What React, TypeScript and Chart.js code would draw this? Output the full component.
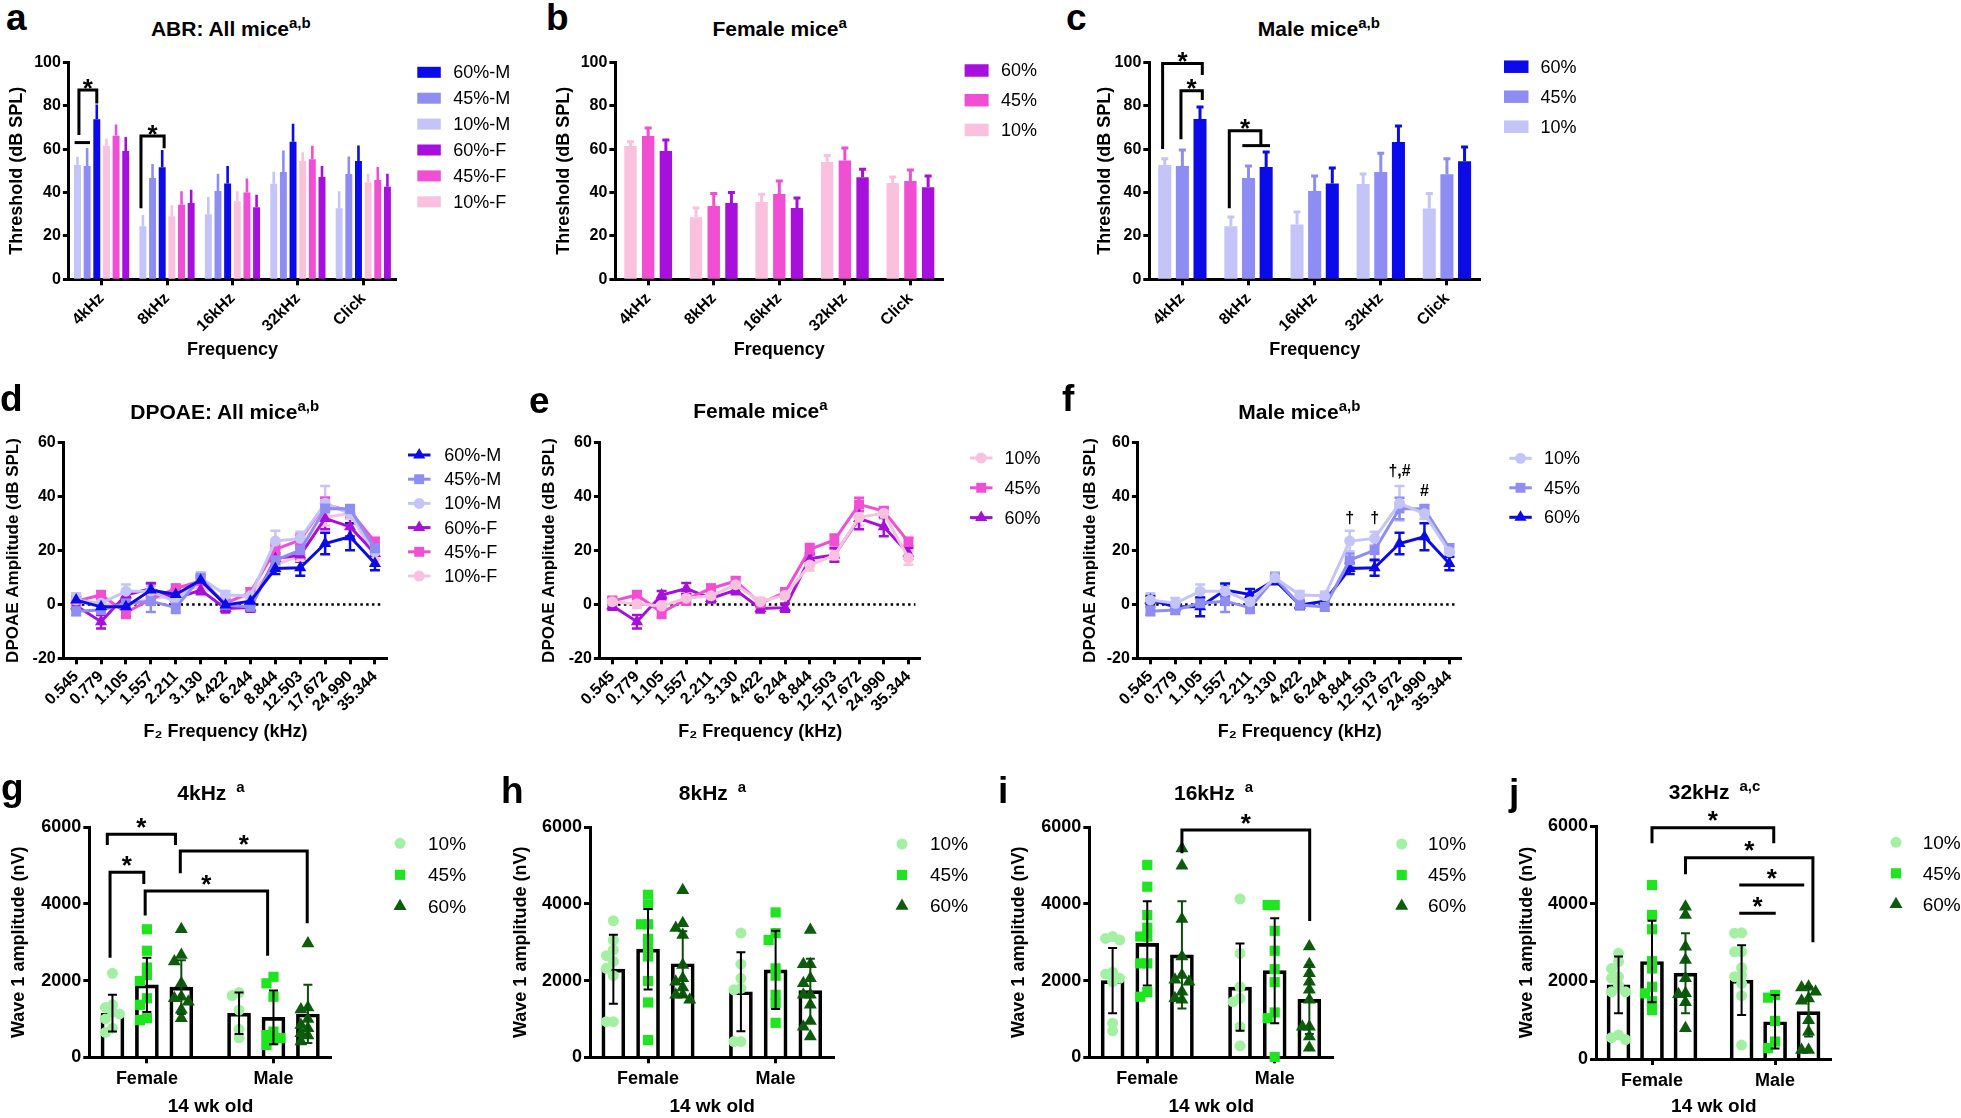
import React, { useEffect, useRef } from "react";
import { Chart, registerables } from "chart.js";

Chart.register(...registerables);

const FONT = "'Liberation Sans', Arial, Helvetica, sans-serif";

/* ======================= DATA ======================= */
// ---- ABR thresholds (dB SPL), panels a–c ----
const abrLabels = ["4kHz", "8kHz", "16kHz", "32kHz", "Click"];
// panel a – all mice
const allM10 = [52.7, 24.4, 30.0, 44.0, 32.7];
const allM10Sem = [3.2, 4.6, 7.3, 5.0, 7.3];
const allM45 = [52.2, 46.7, 40.7, 49.5, 48.5];
const allM45Sem = [7.7, 5.8, 7.3, 9.2, 7.5];
const allM60 = [73.7, 51.6, 44.2, 63.4, 54.5];
const allM60Sem = [6.2, 7.4, 7.4, 7.7, 6.6];
const allF10 = [61.6, 29.0, 36.0, 54.5, 44.7];
const allF10Sem = [2.6, 4.5, 4.0, 3.5, 3.3];
const allF45 = [66.2, 34.3, 40.0, 55.3, 45.8];
const allF45Sem = [4.5, 5.7, 5.8, 5.7, 5.4];
const allF60 = [59.1, 35.2, 33.2, 47.2, 42.7];
const allF60Sem = [5.9, 5.5, 5.2, 4.4, 5.3];
// panel b – female mice
const femThr10 = [61.4, 28.6, 35.6, 54.1, 44.4];
const femThr10Sem = [2.0, 4.3, 3.6, 3.0, 2.8];
const femThr45 = [66.0, 33.8, 39.3, 54.8, 45.3];
const femThr45Sem = [3.7, 5.7, 6.0, 5.7, 5.1];
const femThr60 = [59.1, 35.2, 32.9, 47.0, 42.4];
const femThr60Sem = [5.1, 4.8, 4.6, 3.7, 5.2];
// panel c – male mice
const maleThr10 = [52.7, 24.4, 25.3, 43.9, 32.6];
const maleThr10Sem = [2.8, 4.3, 5.7, 4.6, 6.9];
const maleThr45 = [52.2, 46.7, 40.7, 49.5, 48.4];
const maleThr45Sem = [7.4, 5.5, 6.9, 8.6, 7.1];
const maleThr60 = [73.9, 51.8, 44.2, 63.3, 54.4];
const maleThr60Sem = [5.5, 6.9, 7.1, 7.4, 6.6];

// ---- DPOAE amplitude (dB SPL), panels d–f ----
const f2Labels = ["0.545", "0.779", "1.105", "1.557", "2.211", "3.130", "4.422", "6.244", "8.844", "12.503", "17.672", "24.990", "35.344"];
const dpF10 = [1.0, 0.2, -0.6, 2.3, 3.2, 7.3, 1.0, 3.4, 14.6, 18.2, 32.3, 33.8, 17.2];
const dpF10Sem = [2, 1.5, 2, 2, 2, 1.5, 1.5, 1.5, 2, 2, 3, 2, 2.5];
const dpF45 = [1.2, 3.5, -3.0, 1.9, 5.9, 8.7, 0.4, 4.5, 20.4, 23.9, 37.1, 34.6, 23.2];
const dpF45Sem = [1.5, 1.5, 2, 2, 1.5, 1.5, 1.5, 1.5, 2, 2, 2.5, 1.5, 1.5];
const dpF60 = [-0.5, -6.4, 3.5, 5.9, 2.2, 5.3, -1.5, -1.2, 17.0, 18.3, 31.9, 28.8, 18.9];
const dpF60Sem = [1.5, 2.5, 1.5, 2, 1.5, 1.5, 1.5, 1.5, 2, 2.5, 4, 3.5, 2];
const dpM10 = [1.6, 0.4, 4.9, 4.9, 1.0, 9.9, 3.5, 3.2, 23.5, 24.5, 37.5, 33.7, 19.5];
const dpM10Sem = [2.5, 2, 2.5, 2, 2, 2, 1.5, 1.5, 3.8, 2.5, 6.4, 2, 2];
const dpM45 = [-2.5, -2.1, 0.4, 1.2, -1.2, 9.9, -0.2, -0.9, 16.4, 20.1, 35.6, 35.4, 20.8];
const dpM45Sem = [1.5, 1.5, 2, 4, 2, 1.5, 1.5, 1.5, 2.5, 4, 4, 1.5, 1.5];
const dpM60 = [1.6, -0.9, -0.9, 5.3, 3.7, 9.0, -0.2, 1.2, 13.3, 13.6, 22.6, 25.1, 15.2];
const dpM60Sem = [1.5, 1.5, 3.5, 2.5, 2, 1.5, 1.5, 1.5, 2, 3, 4, 5, 2.5];

// ---- Wave 1 amplitude (nV), panels g–j ----
const wave1Groups = ["Female", "Male"];
// g – 4 kHz
const w4F10 = [2190, 1370, 1300, 1180, 1130, 1000, 760, 650];
const w4F45 = [3340, 2780, 2340, 2150, 1990, 1540, 1370, 1020, 970];
const w4F60 = [3340, 2670, 2500, 1930, 1580, 1540, 1450, 1240, 1020];
const w4M10 = [1690, 1610, 1230, 730, 510];
const w4M45 = [2100, 1930, 1580, 670, 580, 500, 450, 320];
const w4M60 = [2970, 1300, 1250, 1000, 840, 760, 630, 570, 410];
const w4Mean10 = [1150, 1150];
const w4Mean45 = [1890, 1040];
const w4Mean60 = [1830, 1130];
const w4Sd10 = [480, 540];
const w4Sd45 = [710, 700];
const w4Sd60 = [700, 760];
// h – 8 kHz
const w8F10 = [3560, 3060, 2800, 2650, 2500, 2320, 2130, 930, 930];
const w8F45 = [4240, 3970, 3470, 3470, 3090, 2840, 2630, 1990, 1430, 450];
const w8F60 = [4360, 3500, 3370, 3190, 2410, 2060, 1970, 1820, 1630, 1630, 1500];
const w8M10 = [3240, 2430, 2060, 1800, 1760, 410, 410];
const w8M45 = [3780, 3240, 3060, 2320, 2130, 1630, 1410, 900];
const w8M60 = [3320, 2430, 2430, 2060, 1930, 1630, 1630, 1370, 950, 800, 540];
const w8Mean10 = [2300, 1710];
const w8Mean45 = [2820, 2280];
const w8Mean60 = [2440, 1740];
const w8Sd10 = [900, 1030];
const w8Sd45 = [1050, 1020];
const w8Sd60 = [850, 830];
// i – 16 kHz
const w16F10 = [3150, 3100, 3060, 2220, 2170, 2060, 1970, 890, 690];
const w16F45 = [5020, 4450, 3710, 3380, 3150, 3150, 2450, 2450, 1700, 1580];
const w16F60 = [5450, 5000, 3610, 2630, 2150, 2020, 1970, 1710, 1540, 1500];
const w16M10 = [4130, 2710, 1840, 1540, 1450, 800, 300];
const w16M45 = [3970, 3970, 3300, 2780, 2300, 1960, 1170, 1020, 10];
const w16M60 = [2890, 2430, 2190, 1970, 1760, 1500, 800, 800, 540, 250];
const w16Mean10 = [2000, 1830];
const w16Mean45 = [2970, 2260];
const w16Mean60 = [2670, 1510];
const w16Sd10 = [850, 1140];
const w16Sd45 = [1100, 1370];
const w16Sd60 = [1400, 900];
// j – 32 kHz
const w32F10 = [2720, 2510, 2330, 2120, 2080, 1900, 1730, 1730, 620, 550, 500];
const w32F45 = [4480, 3710, 3340, 2520, 2330, 1860, 1690, 1490, 1260];
const w32F60 = [3920, 3710, 2890, 2550, 2080, 1690, 1670, 1460, 790];
const w32M10 = [3250, 3240, 2760, 2760, 2350, 2160, 2120, 1950, 1630, 360];
const w32M45 = [1650, 1580, 980, 450, 280];
const w32M60 = [1860, 1840, 1730, 1560, 1500, 1000, 700, 230, 230];
const w32Mean10 = [1910, 2030];
const w32Mean45 = [2510, 960];
const w32Mean60 = [2210, 1220];
const w32Sd10 = [730, 900];
const w32Sd45 = [1050, 690];
const w32Sd60 = [1030, 640];

/* ======================= STYLE ======================= */
const M60 = "#0b0bea";
const M45 = "#8d8df4";
const M10 = "#c4c4f8";
const F60 = "#a70fdd";
const F45 = "#f14fd3";
const F10 = "#f9c1de";
const G10 = "#a3f0a3";
const G45 = "#1ee61e";
const G60 = "#0c5c0c";

type Frame = { cx: number; cy: number; cw: number; ch: number; l: number; t: number; r: number; b: number; yTitleX: number; xTitleY: number };

const frames: Record<string, Frame> = {
  a: { cx: 0, cy: 40, cw: 530, ch: 330, l: 68.9, t: 62.3, r: 396, b: 279.3, yTitleX: 17.2, xTitleY: 350 },
  b: { cx: 530, cy: 40, cw: 530, ch: 330, l: 615.4, t: 62.3, r: 943.2, b: 279.3, yTitleX: 564.4, xTitleY: 350 },
  c: { cx: 1060, cy: 40, cw: 560, ch: 330, l: 1149.3, t: 62.3, r: 1480, b: 279.3, yTitleX: 1105.4, xTitleY: 350 },
  d: { cx: 0, cy: 380, cw: 530, ch: 370, l: 63.7, t: 442.7, r: 387.4, b: 658.3, yTitleX: 13.8, xTitleY: 731.7 },
  e: { cx: 530, cy: 380, cw: 530, ch: 370, l: 599.9, t: 442.7, r: 920.8, b: 658.3, yTitleX: 548.9, xTitleY: 731.7 },
  f: { cx: 1060, cy: 380, cw: 560, ch: 370, l: 1137.9, t: 442.7, r: 1461.8, b: 658.3, yTitleX: 1090.4, xTitleY: 731.7 },
  g: { cx: 0, cy: 770, cw: 500, ch: 348, l: 89.3, t: 827.3, r: 331.7, b: 1057.3, yTitleX: 19, xTitleY: 1106.7 },
  h: { cx: 500, cy: 770, cw: 490, ch: 348, l: 590, t: 827.3, r: 834.3, b: 1057.3, yTitleX: 520.8, xTitleY: 1106.7 },
  i: { cx: 990, cy: 770, cw: 500, ch: 348, l: 1089.3, t: 827.3, r: 1333.3, b: 1057.3, yTitleX: 1019, xTitleY: 1106.7 },
  j: { cx: 1490, cy: 770, cw: 471, ch: 348, l: 1596, t: 826, r: 1831.7, b: 1059, yTitleX: 1527.5, xTitleY: 1108.3 },
};

const BAR_STEP = 0.272; // spacing of the three diet bars inside a sex group (x units)
const WX_MIN = -0.455;
const WX_MAX = 1.46;

/* ======================= HELPERS ======================= */
function drawMarker(ctx: CanvasRenderingContext2D, shape: string, x: number, y: number, r: number, color: string) {
  ctx.fillStyle = color;
  ctx.beginPath();
  if (shape === "circle") ctx.arc(x, y, r, 0, Math.PI * 2);
  else if (shape === "rect") {
    const s = r * Math.SQRT1_2;
    ctx.rect(x - s, y - s, 2 * s, 2 * s);
  } else {
    ctx.moveTo(x, y - r);
    ctx.lineTo(x + r * 0.866, y + r * 0.5);
    ctx.lineTo(x - r * 0.866, y + r * 0.5);
    ctx.closePath();
  }
  ctx.fill();
}

function yAxis(f: Frame, min: number, max: number, step: number, title: string, tickSize: number, titleSize: number) {
  const lh = titleSize * 1.2;
  return {
    type: "linear",
    min,
    max,
    ticks: {
      stepSize: step,
      color: "#000",
      padding: 2,
      font: { family: FONT, size: tickSize, weight: "bold" },
      callback: (v: any) => String(v),
    },
    border: { display: true, color: "#000", width: 3 },
    grid: { display: true, drawOnChartArea: false, drawTicks: true, tickLength: 6, tickWidth: 3, tickColor: "#000" },
    title: {
      display: true,
      text: title,
      color: "#000",
      font: { family: FONT, size: titleSize, weight: "bold", lineHeight: 1.2 },
      padding: { top: Math.max(0, f.yTitleX - f.cx - lh / 2), bottom: 0 },
    },
    afterFit: (s: any) => {
      s.width = f.l - f.cx;
    },
  };
}

function xCommon(f: Frame, title: string, tickSize: number, titleSize: number, rotation: number, pad: number) {
  const lh = titleSize * 1.2;
  return {
    ticks: {
      color: "#000",
      autoSkip: false,
      maxRotation: rotation,
      minRotation: rotation,
      padding: pad,
      font: { family: FONT, size: tickSize, weight: "bold" },
    },
    border: { display: true, color: "#000", width: 3 },
    grid: { display: true, drawOnChartArea: false, drawTicks: true, tickLength: 6, tickWidth: 3, tickColor: "#000", offset: false },
    title: {
      display: true,
      text: title,
      color: "#000",
      font: { family: FONT, size: titleSize, weight: "bold", lineHeight: 1.2 },
      padding: { top: 0, bottom: Math.max(0, f.cy + f.ch - f.xTitleY - lh / 2) },
    },
    afterFit: (s: any) => {
      s.height = f.cy + f.ch - f.b;
    },
  };
}

function baseOptions(f: Frame, scales: any) {
  return {
    responsive: false,
    animation: false,
    events: [],
    layout: { padding: { left: 0, top: f.t - f.cy, right: f.cx + f.cw - f.r, bottom: 0 } },
    plugins: { legend: { display: false }, tooltip: { enabled: false }, title: { display: false } },
    scales,
  };
}

function drawErrors(chart: any, under: boolean) {
  const ctx = chart.ctx;
  chart.data.datasets.forEach((ds: any, i: number) => {
    if (!ds.errors || !!ds.errUnder !== under) return;
    const meta = chart.getDatasetMeta(i);
    const ys = chart.scales[meta.yAxisID];
    meta.data.forEach((el: any, j: number) => {
      const raw = ds.data[j];
      const v = typeof raw === "number" ? raw : raw.y;
      const e = ds.errors[j];
      const x = el.x;
      const pTop = ys.getPixelForValue(v + e);
      const pBot = ds.errBoth ? ys.getPixelForValue(v - e) : ys.getPixelForValue(v);
      ctx.save();
      ctx.strokeStyle = ds.errColor;
      ctx.lineWidth = ds.errWidth;
      ctx.beginPath();
      ctx.moveTo(x, pBot);
      ctx.lineTo(x, pTop);
      ctx.moveTo(x - ds.errCap, pTop);
      ctx.lineTo(x + ds.errCap, pTop);
      if (ds.errBoth) {
        ctx.moveTo(x - ds.errCap, pBot);
        ctx.lineTo(x + ds.errCap, pBot);
      }
      ctx.stroke();
      ctx.restore();
    });
  });
}

const errorBarPlugin = {
  id: "errorBars",
  beforeDatasetsDraw(chart: any) {
    drawErrors(chart, true);
  },
  afterDatasetsDraw(chart: any) {
    drawErrors(chart, false);
  },
};

type Bracket = { g1: number; k1: number; g2: number; k2: number; top: number; e1: number; e2: number; star: boolean };

function bracketPlugin(list: Bracket[], starGap: number) {
  return {
    id: "brackets",
    afterDatasetsDraw(chart: any) {
      const ctx = chart.ctx;
      const y = chart.scales.y;
      const xAt = (g: number, k: number) => {
        const x0 = chart.getDatasetMeta(0).data[g].x;
        const x1 = chart.getDatasetMeta(1).data[g].x;
        return x0 + (x1 - x0) * k;
      };
      ctx.save();
      ctx.strokeStyle = "#000";
      ctx.lineWidth = 3;
      ctx.lineJoin = "miter";
      for (const b of list) {
        const xa = xAt(b.g1, b.k1);
        const xb = xAt(b.g2, b.k2);
        const yt = y.getPixelForValue(b.top);
        ctx.beginPath();
        ctx.moveTo(xa, y.getPixelForValue(b.e1));
        ctx.lineTo(xa, yt);
        ctx.lineTo(xb, yt);
        ctx.lineTo(xb, y.getPixelForValue(b.e2));
        ctx.stroke();
        if (b.star) {
          ctx.fillStyle = "#000";
          ctx.font = `bold 26px ${FONT}`;
          ctx.textAlign = "center";
          ctx.textBaseline = "alphabetic";
          ctx.fillText("*", (xa + xb) / 2, yt - starGap + 0.56 * 26);
        }
      }
      ctx.restore();
    },
  };
}

type LegendItem = { label: string; color: string; shape?: string };
type LegendSpec = { kind: "box" | "line" | "point"; x: number; textX: number; y0: number; dy: number; font: number; boxW?: number; boxH?: number; items: LegendItem[] };

function legendPlugin(f: Frame, spec: LegendSpec) {
  return {
    id: "customLegend",
    afterDraw(chart: any) {
      const ctx = chart.ctx;
      ctx.save();
      spec.items.forEach((it, i) => {
        const y = spec.y0 + i * spec.dy - f.cy;
        const x = spec.x - f.cx;
        if (spec.kind === "box") {
          ctx.fillStyle = it.color;
          ctx.fillRect(x, y - (spec.boxH || 12) / 2, spec.boxW || 23, spec.boxH || 12);
        } else if (spec.kind === "line") {
          ctx.strokeStyle = it.color;
          ctx.lineWidth = 3;
          ctx.beginPath();
          ctx.moveTo(x, y);
          ctx.lineTo(x + 22.5, y);
          ctx.stroke();
          drawMarker(ctx, it.shape || "circle", x + 11.2, y, it.shape === "circle" ? 5.5 : 7, it.color);
        } else {
          drawMarker(ctx, it.shape || "circle", x, y, it.shape === "circle" ? 5.5 : it.shape === "rect" ? 7.2 : 7.5, it.color);
        }
        ctx.fillStyle = "#000";
        ctx.font = `${spec.font}px ${FONT}`;
        ctx.textAlign = "left";
        ctx.textBaseline = "middle";
        ctx.fillText(it.label, spec.textX - f.cx, y + 1);
      });
      ctx.restore();
    },
  };
}

/* ======================= PANELS a–c ======================= */
type BarSeries = { label: string; data: number[]; err: number[]; color: string };

function abrConfig(f: Frame, series: BarSeries[], catPct: number, barPct: number, errW: number, errCap: number, legend: LegendSpec, brackets: Bracket[]) {
  return {
    type: "bar",
    data: {
      labels: abrLabels,
      datasets: series.map((s) => ({
        label: s.label,
        data: s.data,
        errors: s.err,
        errColor: s.color,
        errWidth: errW,
        errCap,
        backgroundColor: s.color,
        borderWidth: 0,
        categoryPercentage: catPct,
        barPercentage: barPct,
      })),
    },
    options: baseOptions(f, {
      x: { type: "category", offset: true, ...xCommon(f, "Frequency", 16, 18, 45, 4) },
      y: yAxis(f, 0, 100, 20, "Threshold (dB SPL)", 16, 18),
    }),
    plugins: [errorBarPlugin, bracketPlugin(brackets, 8), legendPlugin(f, legend)],
  };
}

const makeA = () =>
  abrConfig(
    frames.a,
    [
      { label: "10%-M", data: allM10, err: allM10Sem, color: M10 },
      { label: "45%-M", data: allM45, err: allM45Sem, color: M45 },
      { label: "60%-M", data: allM60, err: allM60Sem, color: M60 },
      { label: "10%-F", data: allF10, err: allF10Sem, color: F10 },
      { label: "45%-F", data: allF45, err: allF45Sem, color: F45 },
      { label: "60%-F", data: allF60, err: allF60Sem, color: F60 },
    ],
    0.885,
    0.72,
    2.6,
    1.3,
    {
      kind: "box", x: 417.3, textX: 453.3, y0: 72.3, dy: 25.9, font: 18, boxW: 23.5, boxH: 11,
      items: [
        { label: "60%-M", color: M60 },
        { label: "45%-M", color: M45 },
        { label: "10%-M", color: M10 },
        { label: "60%-F", color: F60 },
        { label: "45%-F", color: F45 },
        { label: "10%-F", color: F10 },
      ],
    },
    [
      { g1: 0, k1: 0.15, g2: 0, k2: 2, top: 87.2, e1: 66.5, e2: 81, star: true },
      { g1: 0, k1: -0.3, g2: 0, k2: 1.3, top: 63, e1: 63, e2: 63, star: false },
      { g1: 1, k1: -0.2, g2: 1, k2: 2.2, top: 66, e1: 32.7, e2: 60.4, star: true },
    ]
  );

const makeB = () =>
  abrConfig(
    frames.b,
    [
      { label: "10%", data: femThr10, err: femThr10Sem, color: F10 },
      { label: "45%", data: femThr45, err: femThr45Sem, color: F45 },
      { label: "60%", data: femThr60, err: femThr60Sem, color: F60 },
    ],
    0.81,
    0.7,
    3,
    3.5,
    {
      kind: "box", x: 964.6, textX: 1001, y0: 70.5, dy: 29.7, font: 18, boxW: 24, boxH: 12.5,
      items: [
        { label: "60%", color: F60 },
        { label: "45%", color: F45 },
        { label: "10%", color: F10 },
      ],
    },
    []
  );

const makeC = () =>
  abrConfig(
    frames.c,
    [
      { label: "10%", data: maleThr10, err: maleThr10Sem, color: M10 },
      { label: "45%", data: maleThr45, err: maleThr45Sem, color: M45 },
      { label: "60%", data: maleThr60, err: maleThr60Sem, color: M60 },
    ],
    0.8,
    0.74,
    3,
    3.5,
    {
      kind: "box", x: 1504, textX: 1540.4, y0: 66.7, dy: 30, font: 18, boxW: 24.5, boxH: 12.5,
      items: [
        { label: "60%", color: M60 },
        { label: "45%", color: M45 },
        { label: "10%", color: M10 },
      ],
    },
    [
      { g1: 0, k1: -0.12, g2: 0, k2: 2.13, top: 99.5, e1: 60, e2: 94.2, star: true },
      { g1: 0, k1: 0.92, g2: 0, k2: 2.13, top: 86.9, e1: 64.5, e2: 82.6, star: true },
      { g1: 1, k1: -0.09, g2: 1, k2: 1.7, top: 68.4, e1: 32.7, e2: 62, star: true },
      { g1: 1, k1: 0.65, g2: 1, k2: 2.22, top: 61.6, e1: 61.6, e2: 61.6, star: false },
    ]
  );

/* ======================= PANELS d–f ======================= */
type LineSeries = { label: string; data: number[]; err: number[]; color: string; shape: string };
type Mark = { cat: number; value: number; text: string };

function dpConfig(f: Frame, series: LineSeries[], legend: LegendSpec, marks: Mark[]) {
  const zeroLine = {
    id: "zeroLine",
    beforeDatasetsDraw(chart: any) {
      const ctx = chart.ctx;
      const x = chart.scales.x;
      const y = chart.scales.y;
      const py = y.getPixelForValue(0);
      ctx.save();
      ctx.strokeStyle = "#000";
      ctx.lineWidth = 2.5;
      ctx.setLineDash([2.5, 3.3]);
      ctx.beginPath();
      ctx.moveTo(x.getPixelForValue(0), py);
      ctx.lineTo(x.getPixelForValue(f2Labels.length - 1) + 7, py);
      ctx.stroke();
      ctx.restore();
    },
  };
  const markPlugin = {
    id: "marks",
    afterDatasetsDraw(chart: any) {
      const ctx = chart.ctx;
      ctx.save();
      ctx.fillStyle = "#000";
      ctx.font = `bold 16px ${FONT}`;
      ctx.textAlign = "center";
      ctx.textBaseline = "middle";
      for (const m of marks) ctx.fillText(m.text, chart.scales.x.getPixelForValue(m.cat), chart.scales.y.getPixelForValue(m.value));
      ctx.restore();
    },
  };
  return {
    type: "line",
    data: {
      labels: f2Labels,
      datasets: series.map((s) => ({
        label: s.label,
        data: s.data,
        errors: s.err,
        errBoth: true,
        errUnder: true,
        errColor: s.color,
        errWidth: 2.5,
        errCap: 5,
        borderColor: s.color,
        backgroundColor: s.color,
        borderWidth: 3,
        pointStyle: s.shape,
        pointRadius: s.shape === "circle" ? 5.5 : 7,
        pointBackgroundColor: s.color,
        pointBorderColor: s.color,
        pointBorderWidth: 0,
        tension: 0,
        clip: false,
      })),
    },
    options: baseOptions(f, {
      x: { type: "category", offset: true, ...xCommon(f, "F\u2082 Frequency (kHz)", 16, 18, 45, 3) },
      y: yAxis(f, -20, 60, 20, "DPOAE Amplitude (dB SPL)", 16, 17),
    }),
    plugins: [zeroLine, errorBarPlugin, markPlugin, legendPlugin(f, legend)],
  };
}

const makeD = () =>
  dpConfig(
    frames.d,
    [
      { label: "60%-M", data: dpM60, err: dpM60Sem, color: M60, shape: "triangle" },
      { label: "45%-M", data: dpM45, err: dpM45Sem, color: M45, shape: "rect" },
      { label: "10%-M", data: dpM10, err: dpM10Sem, color: M10, shape: "circle" },
      { label: "60%-F", data: dpF60, err: dpF60Sem, color: F60, shape: "triangle" },
      { label: "45%-F", data: dpF45, err: dpF45Sem, color: F45, shape: "rect" },
      { label: "10%-F", data: dpF10, err: dpF10Sem, color: F10, shape: "circle" },
    ],
    {
      kind: "line", x: 408, textX: 444.2, y0: 455, dy: 24.2, font: 18,
      items: [
        { label: "60%-M", color: M60, shape: "triangle" },
        { label: "45%-M", color: M45, shape: "rect" },
        { label: "10%-M", color: M10, shape: "circle" },
        { label: "60%-F", color: F60, shape: "triangle" },
        { label: "45%-F", color: F45, shape: "rect" },
        { label: "10%-F", color: F10, shape: "circle" },
      ],
    },
    []
  );

const makeE = () =>
  dpConfig(
    frames.e,
    [
      { label: "10%", data: dpF10, err: dpF10Sem, color: F10, shape: "circle" },
      { label: "45%", data: dpF45, err: dpF45Sem, color: F45, shape: "rect" },
      { label: "60%", data: dpF60, err: dpF60Sem, color: F60, shape: "triangle" },
    ],
    {
      kind: "line", x: 970, textX: 1004.5, y0: 458, dy: 29.8, font: 18,
      items: [
        { label: "10%", color: F10, shape: "circle" },
        { label: "45%", color: F45, shape: "rect" },
        { label: "60%", color: F60, shape: "triangle" },
      ],
    },
    []
  );

const makeF = () =>
  dpConfig(
    frames.f,
    [
      { label: "10%", data: dpM10, err: dpM10Sem, color: M10, shape: "circle" },
      { label: "45%", data: dpM45, err: dpM45Sem, color: M45, shape: "rect" },
      { label: "60%", data: dpM60, err: dpM60Sem, color: M60, shape: "triangle" },
    ],
    {
      kind: "line", x: 1509.3, textX: 1544, y0: 458.3, dy: 29.5, font: 18,
      items: [
        { label: "10%", color: M10, shape: "circle" },
        { label: "45%", color: M45, shape: "rect" },
        { label: "60%", color: M60, shape: "triangle" },
      ],
    },
    [
      { cat: 8, value: 31.9, text: "\u2020" },
      { cat: 9, value: 31.9, text: "\u2020" },
      { cat: 10, value: 49.4, text: "\u2020,#" },
      { cat: 11, value: 41.8, text: "#" },
    ]
  );

/* ======================= PANELS g–j ======================= */
function swarm(values: number[], center: number, unitsPerPx: number, pxPerVal: number, step: number, minDist: number) {
  const idx = values.map((_, i) => i).sort((a, b) => values[b] - values[a]);
  const placed: { dx: number; py: number }[] = [];
  const out: { x: number; y: number }[] = new Array(values.length);
  for (const i of idx) {
    const py = values[i] * pxPerVal;
    let dx = 0;
    for (let k = 0; k < 15; k++) {
      const cand = k === 0 ? 0 : (k % 2 === 1 ? -1 : 1) * Math.ceil(k / 2) * step;
      if (placed.every((p) => Math.hypot(p.dx - cand, p.py - py) >= minDist)) {
        dx = cand;
        break;
      }
    }
    placed.push({ dx, py });
    out[i] = { x: center + dx * unitsPerPx, y: values[i] };
  }
  return out;
}

type WaveSet = { pts: number[][][]; means: number[][]; sds: number[][] };

function waveConfig(f: Frame, w: WaveSet, legend: LegendSpec, brackets: Bracket[]) {
  const colors = [G10, G45, G60];
  const shapes = ["circle", "rect", "triangle"];
  const radii = [5.5, 7.2, 7.5];
  const errColors = ["#000", "#000", "#0b4d0b"];
  const unitsPerPx = (WX_MAX - WX_MIN) / (f.r - f.l);
  const pxPerVal = (f.b - f.t) / 6000;
  const bars = [0, 1, 2].map((k) => ({
    type: "bar",
    label: ["10%", "45%", "60%"][k],
    data: wave1Groups.map((_, g) => ({ x: g + (k - 1) * BAR_STEP, y: w.means[k][g] })),
    grouped: false,
    barThickness: 23,
    borderWidth: 3,
    borderColor: "#000",
    backgroundColor: "rgba(255,255,255,0)",
    errors: w.sds[k],
    errBoth: true,
    errColor: errColors[k],
    errWidth: 2,
    errCap: 4.5,
    order: 2,
  }));
  const scatters = [0, 1, 2].map((k) => ({
    type: "scatter",
    label: ["10%", "45%", "60%"][k] + " pts",
    data: wave1Groups.flatMap((_, g) => swarm(w.pts[k][g], g + (k - 1) * BAR_STEP, unitsPerPx, pxPerVal, 7, 7)),
    pointStyle: shapes[k],
    pointRadius: radii[k],
    pointBackgroundColor: colors[k],
    pointBorderColor: colors[k],
    pointBorderWidth: 0,
    backgroundColor: colors[k],
    showLine: false,
    clip: false,
    order: 1,
  }));
  return {
    type: "bar",
    data: { datasets: [...bars, ...scatters] },
    options: baseOptions(f, {
      x: {
        type: "linear",
        min: WX_MIN,
        max: WX_MAX,
        offset: false,
        afterBuildTicks: (s: any) => {
          s.ticks = wave1Groups.map((_, i) => ({ value: i }));
        },
        ...xCommon(f, "14 wk old", 18, 19, 0, 5),
        ticks: {
          color: "#000",
          autoSkip: false,
          maxRotation: 0,
          minRotation: 0,
          padding: 5,
          font: { family: FONT, size: 18, weight: "bold" },
          callback: (v: any) => wave1Groups[Math.round(v)] ?? "",
        },
      },
      y: yAxis(f, 0, 6000, 2000, "Wave 1 amplitude (nV)", 18, 18),
    }),
    plugins: [errorBarPlugin, bracketPlugin(brackets, 13), legendPlugin(f, legend)],
  };
}

function waveLegend(x: number, textX: number, y0: number, dy: number): LegendSpec {
  return {
    kind: "point", x, textX, y0, dy, font: 19,
    items: [
      { label: "10%", color: G10, shape: "circle" },
      { label: "45%", color: G45, shape: "rect" },
      { label: "60%", color: G60, shape: "triangle" },
    ],
  };
}

const makeG = () =>
  waveConfig(
    frames.g,
    {
      pts: [[w4F10, w4M10], [w4F45, w4M45], [w4F60, w4M60]],
      means: [w4Mean10, w4Mean45, w4Mean60],
      sds: [w4Sd10, w4Sd45, w4Sd60],
    },
    waveLegend(400, 428, 843.3, 31.5),
    [
      { g1: 0, k1: -0.15, g2: 0, k2: 1.83, top: 5817, e1: 5540, e2: 5540, star: true },
      { g1: 0, k1: -0.07, g2: 0, k2: 0.91, top: 4826, e1: 2600, e2: 4522, star: true },
      { g1: 0, k1: 0.95, g2: 1, k2: 0.83, top: 4339, e1: 3696, e2: 2652, star: true },
      { g1: 0, k1: 1.97, g2: 1, k2: 1.98, top: 5383, e1: 4800, e2: 3496, star: true },
    ]
  );

const makeH = () =>
  waveConfig(
    frames.h,
    {
      pts: [[w8F10, w8M10], [w8F45, w8M45], [w8F60, w8M60]],
      means: [w8Mean10, w8Mean45, w8Mean60],
      sds: [w8Sd10, w8Sd45, w8Sd60],
    },
    waveLegend(902, 930, 844, 31),
    []
  );

const makeI = () =>
  waveConfig(
    frames.i,
    {
      pts: [[w16F10, w16M10], [w16F45, w16M45], [w16F60, w16M60]],
      means: [w16Mean10, w16Mean45, w16Mean60],
      sds: [w16Sd10, w16Sd45, w16Sd60],
    },
    waveLegend(1401.7, 1428, 844, 31),
    [{ g1: 0, k1: 2.0, g2: 1, k2: 2.01, top: 5930, e1: 5322, e2: 3557, star: true }]
  );

const makeJ = () =>
  waveConfig(
    frames.j,
    {
      pts: [[w32F10, w32M10], [w32F45, w32M45], [w32F60, w32M60]],
      means: [w32Mean10, w32Mean45, w32Mean60],
      sds: [w32Sd10, w32Sd45, w32Sd60],
    },
    waveLegend(1896, 1922.7, 842.3, 31),
    [
      { g1: 0, k1: 1.0, g2: 1, k2: 0.96, top: 5957, e1: 5554, e2: 5554, star: true },
      { g1: 0, k1: 2.0, g2: 1, k2: 2.13, top: 5185, e1: 4755, e2: 3004, star: true },
      { g1: 1, k1: -0.07, g2: 1, k2: 1.87, top: 4481, e1: 4481, e2: 4481, star: true },
      { g1: 1, k1: -0.07, g2: 1, k2: 1.02, top: 3751, e1: 3751, e2: 3751, star: true },
    ]
  );

/* ======================= COMPONENTS ======================= */
function ChartBox({ f, make }: { f: Frame; make: () => any }) {
  const ref = useRef<HTMLCanvasElement | null>(null);
  useEffect(() => {
    if (!ref.current) return;
    const chart = new Chart(ref.current, make());
    return () => chart.destroy();
  }, []);
  return (
    <canvas
      ref={ref}
      width={f.cw}
      height={f.ch}
      style={{ position: "absolute", left: f.cx, top: f.cy, width: f.cw, height: f.ch }}
    />
  );
}

function Title({ x, baseline, text, sup, gap = 0 }: { x: number; baseline: number; text: string; sup: string; gap?: number }) {
  const size = 21;
  return (
    <div
      style={{
        position: "absolute",
        left: x,
        top: baseline - 0.8465 * size,
        transform: "translateX(-50%)",
        fontFamily: FONT,
        fontWeight: 700,
        fontSize: size,
        lineHeight: `${size}px`,
        whiteSpace: "nowrap",
        color: "#000",
      }}
    >
      {text}
      <span style={{ fontSize: 15, verticalAlign: 8, lineHeight: 0, marginLeft: gap }}>{sup}</span>
    </div>
  );
}

function Letter({ x, baseline, ch }: { x: number; baseline: number; ch: string }) {
  const size = 37;
  return (
    <div
      style={{
        position: "absolute",
        left: x,
        top: baseline - 0.8465 * size,
        fontFamily: FONT,
        fontWeight: 700,
        fontSize: size,
        lineHeight: `${size}px`,
        color: "#000",
      }}
    >
      {ch}
    </div>
  );
}

export default function App() {
  return (
    <div style={{ position: "fixed", left: 0, top: 0, width: 1961, height: 1118, background: "#fff", overflow: "hidden" }}>
      <ChartBox f={frames.a} make={makeA} />
      <ChartBox f={frames.b} make={makeB} />
      <ChartBox f={frames.c} make={makeC} />
      <ChartBox f={frames.d} make={makeD} />
      <ChartBox f={frames.e} make={makeE} />
      <ChartBox f={frames.f} make={makeF} />
      <ChartBox f={frames.g} make={makeG} />
      <ChartBox f={frames.h} make={makeH} />
      <ChartBox f={frames.i} make={makeI} />
      <ChartBox f={frames.j} make={makeJ} />

      <Letter x={6} baseline={30} ch="a" />
      <Letter x={546} baseline={30} ch="b" />
      <Letter x={1066} baseline={30} ch="c" />
      <Letter x={0} baseline={411.7} ch="d" />
      <Letter x={529} baseline={413.3} ch="e" />
      <Letter x={1062} baseline={411.7} ch="f" />
      <Letter x={1} baseline={800} ch="g" />
      <Letter x={501} baseline={803.3} ch="h" />
      <Letter x={998} baseline={803.3} ch="i" />
      <Letter x={1509} baseline={805} ch="j" />

      <Title x={230.8} baseline={36} text="ABR: All mice" sup="a,b" />
      <Title x={779.6} baseline={35.5} text="Female mice" sup="a" />
      <Title x={1318.8} baseline={36} text="Male mice" sup="a,b" />
      <Title x={224.7} baseline={418.3} text="DPOAE: All mice" sup="a,b" />
      <Title x={760.4} baseline={417.7} text="Female mice" sup="a" />
      <Title x={1299.3} baseline={418.3} text="Male mice" sup="a,b" />
      <Title x={211} baseline={800} text="4kHz" sup="a" gap={10} />
      <Title x={712.5} baseline={800} text="8kHz" sup="a" gap={10} />
      <Title x={1213.5} baseline={800} text="16kHz" sup="a" gap={10} />
      <Title x={1714.5} baseline={798.3} text="32kHz" sup="a,c" gap={10} />
    </div>
  );
}
